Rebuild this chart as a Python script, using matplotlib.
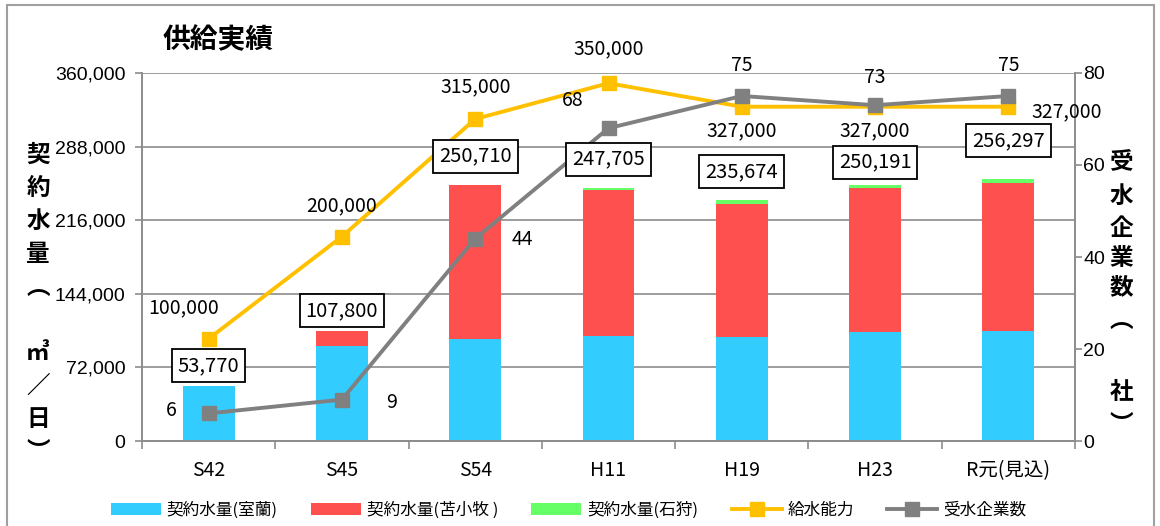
import matplotlib
matplotlib.use("Agg")
import matplotlib.pyplot as plt
from matplotlib.patches import Rectangle
from matplotlib.ticker import FuncFormatter, FixedLocator

categories = ["S42", "S45", "S54", "H11", "H19", "H23", "R元(見込)"]
muroran = [53770, 93300, 99500, 102400, 102200, 106600, 107300]
totals = [53770, 107800, 250710, 247705, 235674, 250191, 256297]
ishikari = [0, 0, 0, 1700, 3600, 3000, 3600]
tomakomai = [t - m - s for t, m, s in zip(totals, muroran, ishikari)]
capacity = [100000, 200000, 315000, 350000, 327000, 327000, 327000]
companies = [6, 9, 44, 68, 75, 73, 75]
left_ticks = [0, 72000, 144000, 216000, 288000, 360000]
right_ticks = [0, 20, 40, 60, 80]

C_BLUE = "#33CCFF"
C_RED = "#FF5050"
C_GREEN = "#66FF66"
C_YEL = "#FFC000"
C_GRAY = "#808080"
GRID = "#8C8C8C"

NARROW = ["Liberation Sans Narrow", "Noto Sans CJK JP", "DejaVu Sans"]
CJK = ["Noto Sans CJK JP", "DejaVu Sans"]
plt.rcParams["font.family"] = NARROW

W, H = 1160, 526
fig = plt.figure(figsize=(W / 100, H / 100), dpi=100)
ax = fig.add_axes([142 / W, 1 - 441 / H, (1075 - 142) / W, (441 - 73) / H])
ax2 = ax.twinx()

x = list(range(len(categories)))
bw = 0.39
ax.bar(x, muroran, bw, color=C_BLUE, zorder=2, label="契約水量(室蘭)")
ax.bar(x, tomakomai, bw, bottom=muroran, color=C_RED, zorder=2, label="契約水量(苫小牧 )")
bot2 = [m + t for m, t in zip(muroran, tomakomai)]
ax.bar(x, ishikari, bw, bottom=bot2, color=C_GREEN, zorder=2, label="契約水量(石狩)")
ax.plot(x, capacity, color=C_YEL, lw=2.8, marker="s", ms=10, zorder=4, label="給水能力")
ax2.plot(x, companies, color=C_GRAY, lw=2.8, marker="s", ms=10, zorder=4, label="受水企業数")

ax.set_xlim(-0.5, len(categories) - 0.5)
ax.set_ylim(0, 360000)
ax2.set_ylim(0, 80)
ax.yaxis.set_major_locator(FixedLocator(left_ticks))
ax2.yaxis.set_major_locator(FixedLocator(right_ticks))
ax.yaxis.set_major_formatter(FuncFormatter(lambda v, p: f"{int(v):,}"))
ax.grid(axis="y", color=GRID, lw=1.2, zorder=0)
ax.set_axisbelow(True)

ax.set_xticks(x)
ax.set_xticklabels(categories, fontsize=14, family=NARROW)
ax.set_xticks([i - 0.5 for i in range(len(categories) + 1)], minor=True)
ax.tick_params(axis="x", which="major", length=0, pad=14)
ax.tick_params(axis="x", which="minor", length=6, color=GRID, width=1.2)
ax.tick_params(axis="y", length=5, color=GRID, width=1.2, labelsize=14, pad=7)
ax2.tick_params(axis="y", length=5, color=GRID, width=1.2, labelsize=14, pad=1)
for t in ax.get_yticklabels() + ax2.get_yticklabels():
    t.set_family(["Liberation Sans", "DejaVu Sans"])

for a in (ax, ax2):
    for s in a.spines.values():
        s.set_color(GRID)
        s.set_linewidth(1.2)
    a.spines["top"].set_visible(False)

# total boxes
box_off = [1, 1, 7, 7, 7, 3, 14]
for i, (t, o) in enumerate(zip(totals, box_off)):
    ax2.annotate(f"{t:,}", xy=(i, t), xycoords=ax.transData, xytext=(0, o + 6),
                 textcoords="offset points", ha="center", va="bottom", fontsize=14.5,
                 bbox=dict(boxstyle="square,pad=0.3", fc="white", ec="black", lw=1.3),
                 zorder=10)

# capacity labels
cap_off = [(-18, 22), (0, 22), (0, 23), (0, 25), (0, -17), (0, -17), (42, -4)]
for i, (v, (dx, dy)) in enumerate(zip(capacity, cap_off)):
    ax2.annotate(f"{v:,}", xy=(i, v), xycoords=ax.transData, xytext=(dx, dy),
                 textcoords="offset points", ha="center", va="center", fontsize=14, zorder=11)

# company labels
com_off = [(-27, 2), (36, -2), (34, -1), (-26, 20), (0, 22), (0, 20), (0, 22)]
for i, (v, (dx, dy)) in enumerate(zip(companies, com_off)):
    ax2.annotate(f"{v}", xy=(i, v), xytext=(dx, dy), textcoords="offset points",
                 ha="center", va="center", fontsize=14, zorder=11)

# title
fig.text(163 / W, 1 - 40 / H, "供給実績", fontsize=20, fontweight="bold", family=CJK,
         ha="left", va="center")

# vertical axis titles
left_chars = ["契", "約", "水", "量", "︵", "", "㎥", "／", "日", "︶"]
for k, ch in enumerate(left_chars):
    fig.text(38 / W, 1 - (155 + 33 * k) / H, ch, fontsize=17, fontweight="bold",
             family=CJK, ha="center", va="center")
right_chars = ["受", "水", "企", "業", "数", "︵", "", "社", "︶"]
right_y = [162, 196, 228, 258, 287, 320, 355, 392, 425]
for ch, yy in zip(right_chars, right_y):
    fig.text(1121 / W, 1 - yy / H, ch, fontsize=17, fontweight="bold",
             family=CJK, ha="center", va="center")

# legend
h1, l1 = ax.get_legend_handles_labels()
h2, l2 = ax2.get_legend_handles_labels()
handles = [h1[1], h1[2], h1[3], h1[0], h2[0]]
labels = [l1[1], l1[2], l1[3], l1[0], l2[0]]
leg = fig.legend(handles, labels, loc="center", bbox_to_anchor=(0.490, 1 - 510 / H),
                 ncol=5, frameon=False, handlelength=3.0,
                 handleheight=0.7, columnspacing=2.0, handletextpad=0.35,
                 prop={"family": NARROW, "size": 12})

# chart frame
fig.patches.append(Rectangle((7 / W, -0.02), (1154 - 7) / W, 1.02 - 5 / H,
                             transform=fig.transFigure, fill=False, ec="#A0A0A0", lw=1.5))

fig.savefig("out.png", dpi=100)
